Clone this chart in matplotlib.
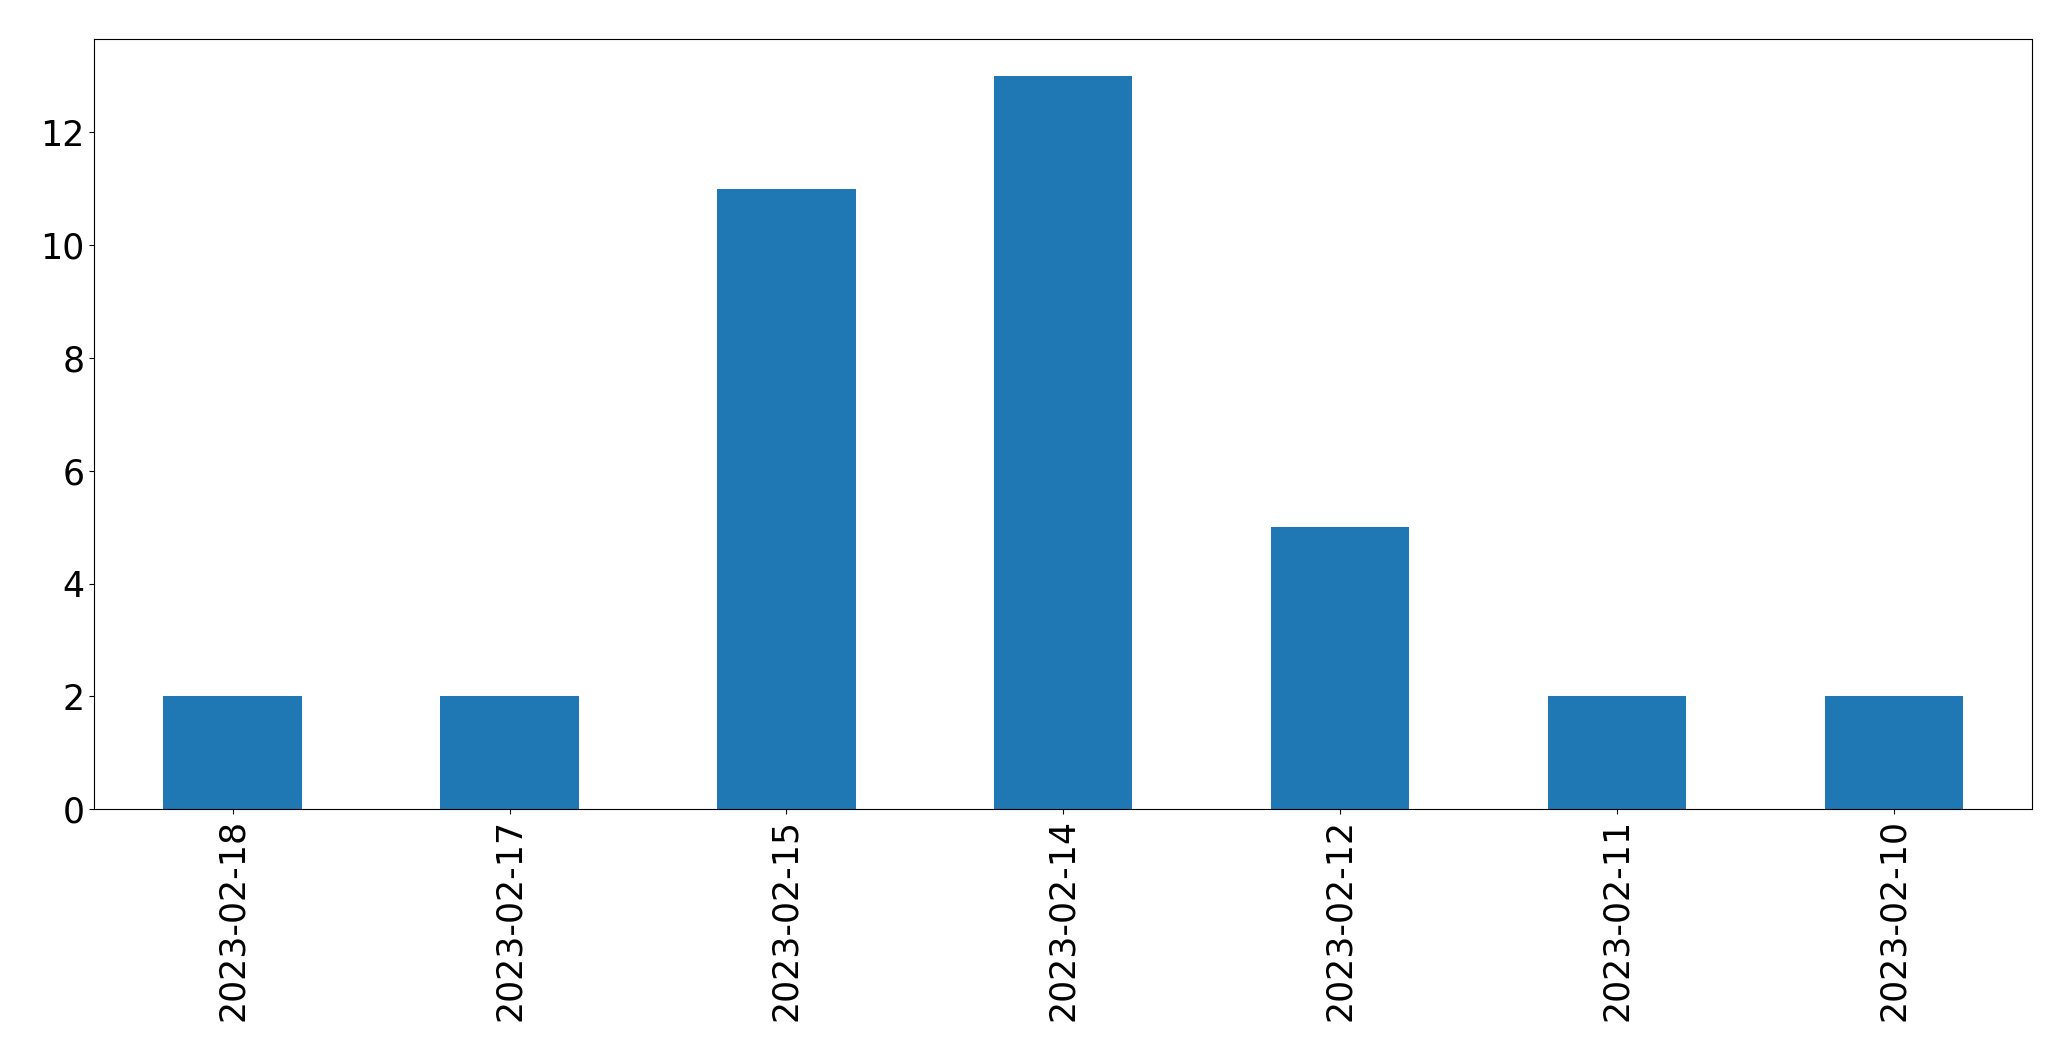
import matplotlib
matplotlib.use("Agg")
import matplotlib.pyplot as plt
import numpy as np

# data
dates = ["2023-02-18", "2023-02-17", "2023-02-15", "2023-02-14",
         "2023-02-12", "2023-02-11", "2023-02-10"]
counts = [2, 2, 11, 13, 5, 2, 2]

fig = plt.figure(figsize=(20.71, 10.61), dpi=100)
ax = fig.add_axes([0.0455, 0.2372, 0.9358, 0.7258])

x = np.arange(len(dates))
ax.bar(x, counts, width=0.5, color="#1f77b4")
ax.set_xlim(-0.5, len(dates) - 0.5)
ax.set_xticks(x)
ax.set_xticklabels(dates, rotation=90)
ax.tick_params(axis="both", labelsize=25)

fig.savefig("out.png", dpi=100)
